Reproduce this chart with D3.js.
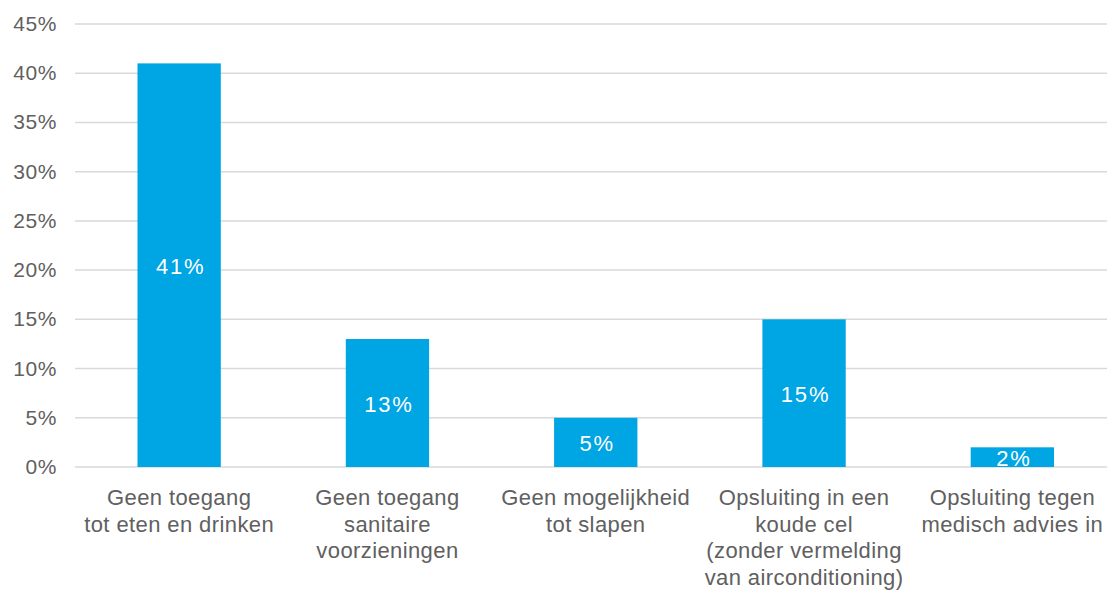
<!DOCTYPE html>
<html><head><meta charset="utf-8">
<script src="https://cdn.jsdelivr.net/npm/d3@7"></script>
<style>html,body{margin:0;padding:0;background:#fff;}svg{display:block;}</style>
</head><body>
<svg id="chart" width="1107" height="592"></svg>
<script>
const categories = [
  ["Geen toegang", "tot eten en drinken"],
  ["Geen toegang", "sanitaire", "voorzieningen"],
  ["Geen mogelijkheid", "tot slapen"],
  ["Opsluiting in een", "koude cel", "(zonder vermelding", "van airconditioning)"],
  ["Opsluiting tegen", "medisch advies in"]
];
const values = [41, 13, 5, 15, 2];
const yTicks = [0, 5, 10, 15, 20, 25, 30, 35, 40, 45];

const svg = d3.select("#chart");
const mLeft = 75, mRight = 1116.5, mTop = 24, mBottom = 467;
const ids = categories.map((c, i) => i);
const x = d3.scaleBand().domain(ids).range([mLeft, mRight]).paddingInner(0.6).paddingOuter(0.3);
const y = d3.scaleLinear().domain([0, 45]).range([mBottom, mTop]);
const font = "'Liberation Sans', Arial, Helvetica, sans-serif";

// gridlines
svg.append("g").selectAll("line").data(yTicks).join("line")
  .attr("x1", mLeft).attr("x2", 1107)
  .attr("y1", d => y(d)).attr("y2", d => y(d))
  .attr("stroke", "#d9d9d9").attr("stroke-width", 1.5);

// y tick labels
svg.append("g").selectAll("text").data(yTicks).join("text")
  .attr("x", 57).attr("y", d => y(d) + 7)
  .attr("text-anchor", "end").attr("font-family", font).attr("font-size", 21)
  .attr("letter-spacing", 0.6)
  .attr("fill", "#606060").text(d => d + "%");

// bars
svg.append("g").selectAll("rect").data(values).join("rect")
  .attr("x", (d, i) => x(i)).attr("width", x.bandwidth())
  .attr("y", d => y(d)).attr("height", d => y(0) - y(d))
  .attr("fill", "#00a5e3");

// value labels
svg.append("g").selectAll("text").data(values).join("text")
  .attr("x", (d, i) => x(i) + x.bandwidth() / 2 + 1.5)
  .attr("y", d => (y(d) + y(0)) / 2 + 8.5)
  .attr("text-anchor", "middle").attr("font-family", font).attr("font-size", 22)
  .attr("letter-spacing", 1.8)
  .attr("fill", "#ffffff").text(d => d + "%");

// category labels
const cat = svg.append("g").selectAll("text").data(categories).join("text")
  .attr("text-anchor", "middle").attr("font-family", font).attr("font-size", 22)
  .attr("letter-spacing", 0.4)
  .attr("fill", "#606060");
cat.each(function(lines, i) {
  d3.select(this).selectAll("tspan").data(lines).join("tspan")
    .attr("x", x(i) + x.bandwidth() / 2)
    .attr("y", (l, j) => 505 + j * 26.7)
    .text(l => l);
});
</script>
</body></html>
